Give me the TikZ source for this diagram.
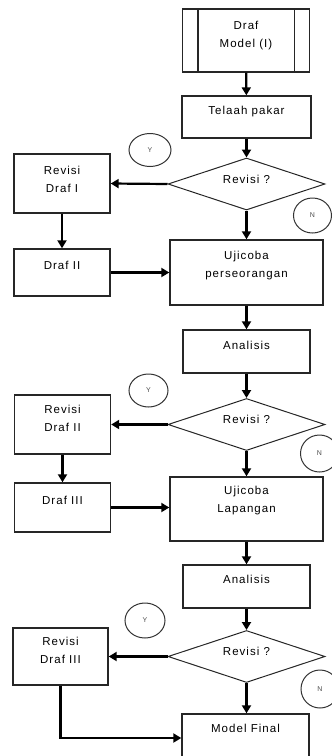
\documentclass[tikz,border=0pt]{standalone}
\usepackage{fontspec}
\newfontfamily\flowfont[LetterSpace=9]{Liberation Sans}
\usetikzlibrary{arrows.meta,shapes.geometric}

\begin{document}
\begin{tikzpicture}[x=1pt, y=-1pt,
    procbox/.style={draw=black!85, line width=1.4pt, inner sep=0pt, align=center,
        font=\flowfont\fontsize{11.5}{18}\selectfont, text=black},
    decision/.style={draw=black!85, line width=1pt, diamond, aspect=3, inner sep=0pt,
        minimum width=157pt, minimum height=52pt, text height=8pt, text depth=10pt,
        font=\flowfont\fontsize{11.5}{18}\selectfont, text=black},
    answer/.style={draw=black!80, line width=1pt, ellipse, inner sep=0pt,
        font=\flowfont\fontsize{7}{8}\selectfont, text=black!70},
    flowarrow/.style={line width=2.2pt, -{Triangle[length=8pt,width=9pt]}}]
    \useasboundingbox (0,0) rectangle (332,756);

    % first round
    \node (draf1) at (246, 40.5) [procbox, minimum width=127pt, minimum height=63pt, text height=26pt, text depth=13pt] {Draf\\Model (I)};
    \draw[line width=1.4pt, black!85] ([xshift=16pt]draf1.north west) -- ([xshift=16pt]draf1.south west);
    \draw[line width=1.4pt, black!85] ([xshift=-16pt]draf1.north east) -- ([xshift=-16pt]draf1.south east);

    \node (telaah) at (246.5, 117) [procbox, minimum width=129pt, minimum height=42pt, text height=8pt, text depth=14pt] {Telaah pakar};
    \node (rev1) at (246.5, 184) [decision] {Revisi ?};
    \node (y1) at (150, 150) [answer, minimum width=42pt, minimum height=33pt] {Y};
    \node (n1) at (312.5, 215.5) [answer, minimum width=38pt, minimum height=35pt] {N};
    \node (revd1) at (62, 183.5) [procbox, minimum width=96pt, minimum height=59pt, text height=26pt, text depth=9pt] {Revisi\\Draf I};
    \node (draf2) at (62, 272.5) [procbox, minimum width=96pt, minimum height=47pt, text height=8pt, text depth=15pt] {Draf II};
    \node (uji1) at (246.5, 272.5) [procbox, minimum width=153pt, minimum height=65pt, text height=26pt, text depth=17pt] {Ujicoba\\perseorangan};

    % second round
    \node (anal1) at (246.5, 351.5) [procbox, minimum width=127pt, minimum height=43pt, text height=8pt, text depth=13pt] {Analisis};
    \node (rev2) at (246.5, 424.5) [decision] {Revisi ?};
    \node (y2) at (148.5, 390.5) [answer, minimum width=39pt, minimum height=33pt] {Y};
    \node (n2) at (319.5, 453.5) [answer, minimum width=38pt, minimum height=37pt] {N};
    \node (revd2) at (62.5, 424.5) [procbox, minimum width=96pt, minimum height=59pt, text height=26pt, text depth=13pt] {Revisi\\Draf II};
    \node (draf3) at (62.5, 507.5) [procbox, minimum width=96pt, minimum height=49pt, text height=8pt, text depth=15pt] {Draf III};
    \node (uji2) at (246.5, 509) [procbox, minimum width=153pt, minimum height=64pt, text height=26pt, text depth=20pt] {Ujicoba\\Lapangan};

    % third round
    \node (anal2) at (246.5, 586.5) [procbox, minimum width=127pt, minimum height=43pt, text height=8pt, text depth=15pt] {Analisis};
    \node (rev3) at (246.5, 656.5) [decision] {Revisi ?};
    \node (y3) at (145, 620.5) [answer, minimum width=40pt, minimum height=35pt] {Y};
    \node (n3) at (320, 689) [answer, minimum width=38pt, minimum height=38pt] {N};
    \node (revd3) at (60.5, 656.5) [procbox, minimum width=95pt, minimum height=57pt, text height=26pt, text depth=12pt] {Revisi\\Draf III};
    \node (final) at (245.5, 738) [procbox, minimum width=127pt, minimum height=48pt, text height=8pt, text depth=20pt] {Model Final};

    \draw[flowarrow] (draf1) -- (telaah);
    \draw[flowarrow] (telaah) -- (rev1);
    \draw[flowarrow] (rev1.west) -- (revd1.east);
    \draw[flowarrow] (rev1.south) -- (uji1.north);
    \draw[flowarrow] (revd1.south) -- (draf2.north);
    \draw[flowarrow] (draf2.east) -- (draf2.east -| uji1.west);

    \draw[flowarrow] (uji1) -- (anal1);
    \draw[flowarrow] (anal1) -- (rev2);
    \draw[flowarrow] (rev2.west) -- (revd2.east);
    \draw[flowarrow] (rev2.south) -- (uji2.north);
    \draw[flowarrow] (revd2.south) -- (draf3.north);
    \draw[flowarrow] (draf3.east) -- (draf3.east -| uji2.west);

    \draw[flowarrow] (uji2) -- (anal2);
    \draw[flowarrow] (anal2) -- (rev3);
    \draw[flowarrow] (rev3.west) -- (revd3.east);
    \draw[flowarrow] (rev3.south) -- (rev3.south |- final.north);
    \draw[flowarrow] (revd3.south) |- (final.west);
\end{tikzpicture}
\end{document}
